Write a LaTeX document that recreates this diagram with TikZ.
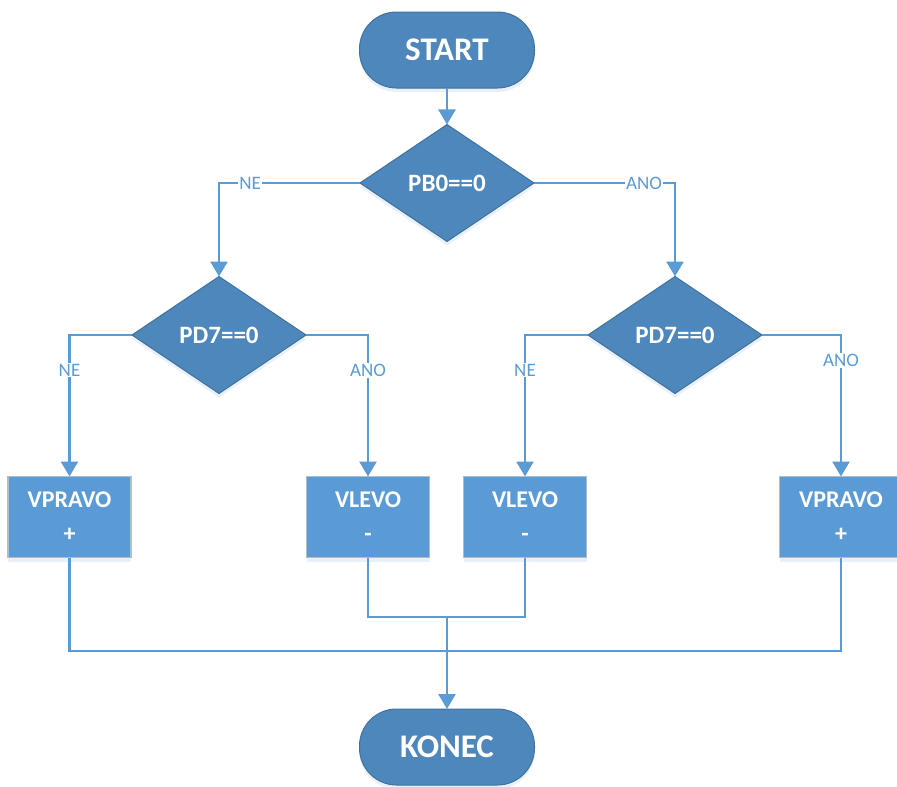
\documentclass[tikz,border=0pt]{standalone}
\usepackage{fontspec}
\setmainfont{Carlito}
\usetikzlibrary{shapes.geometric,arrows.meta,shadows}
\definecolor{darkfill}{HTML}{4E87BB}
\definecolor{darkedge}{HTML}{41719C}
\definecolor{boxfill}{HTML}{5B9BD5}
\definecolor{boxedge}{HTML}{B4BCC4}
\definecolor{wire}{HTML}{5B9BD5}
\definecolor{glow}{HTML}{BDD7EE}
\tikzset{
  soft/.style={drop shadow={shadow xshift=0pt,shadow yshift=-4pt,opacity=0.35,fill=glow}},
  terminal/.style={rectangle,rounded corners=37pt,minimum width=175pt,minimum height=76pt,
    fill=darkfill,draw=darkedge,line width=1pt,text=white,font=\bfseries\fontsize{33}{36}\selectfont,
    inner sep=0pt,outer sep=0pt,soft},
  decision/.style={diamond,minimum width=174pt,minimum height=117pt,inner sep=0pt,outer sep=0pt,
    fill=darkfill,draw=darkedge,line width=1pt,text=white,font=\bfseries\fontsize{25}{28}\selectfont,soft},
  action/.style={rectangle,minimum width=123pt,minimum height=81pt,inner sep=0pt,outer sep=0pt,
    fill=boxfill,draw=boxedge,line width=1.2pt,text=white,align=center,
    font=\bfseries\fontsize{24}{34}\selectfont,soft},
  wireline/.style={draw=wire,line width=2.6pt},
  arr/.style={wireline,-{Triangle[width=17pt,length=15pt]}},
  lab/.style={fill=white,text=wire,font=\fontsize{19}{20}\selectfont,inner sep=1pt},
}
\begin{document}
\begin{tikzpicture}[x=1pt,y=-1pt]
\useasboundingbox (0,0) rectangle (897,787);

% shapes
\node[terminal] (start) at (447,50) {START};
\node[decision] (pbzero) at (447,183) {PB0==0};
\node[decision] (pdl) at (219,335) {PD7==0};
\node[decision] (pdr) at (675,335) {PD7==0};
\node[action] (b1) at (69.5,517) {VPRAVO\\+};
\node[action] (b2) at (368,517) {VLEVO\\-};
\node[action] (b3) at (525,517) {VLEVO\\-};
\node[action] (b4) at (841,517) {VPRAVO\\+};
\node[terminal] (konec) at (447,747) {KONEC};

\coordinate (joinA) at (447,617);
\coordinate (joinB) at (447,651);

% branches
\draw[arr] (start) -- (pbzero);
\draw[arr] (pbzero.west) -| node[lab,pos=0.39]{NE} (pdl.north);
\draw[arr] (pbzero.east) -| node[lab,pos=0.39]{ANO} (pdr.north);
\draw[arr] (pdl.west) -| node[lab,pos=0.625]{NE} (b1.north);
\draw[arr] (pdl.east) -| node[lab,pos=0.625]{ANO} (b2.north);
\draw[arr] (pdr.west) -| node[lab,pos=0.625]{NE} (b3.north);
\draw[arr] (pdr.east) -| node[lab,pos=0.59]{ANO} (b4.north);

% merging lines
\draw[wireline] (b2.south) |- (joinA) -| (b3.south);
\draw[wireline] (b1.south) |- (joinB) -| (b4.south);
\draw[arr] (joinA) -- (konec);
\end{tikzpicture}
\end{document}
